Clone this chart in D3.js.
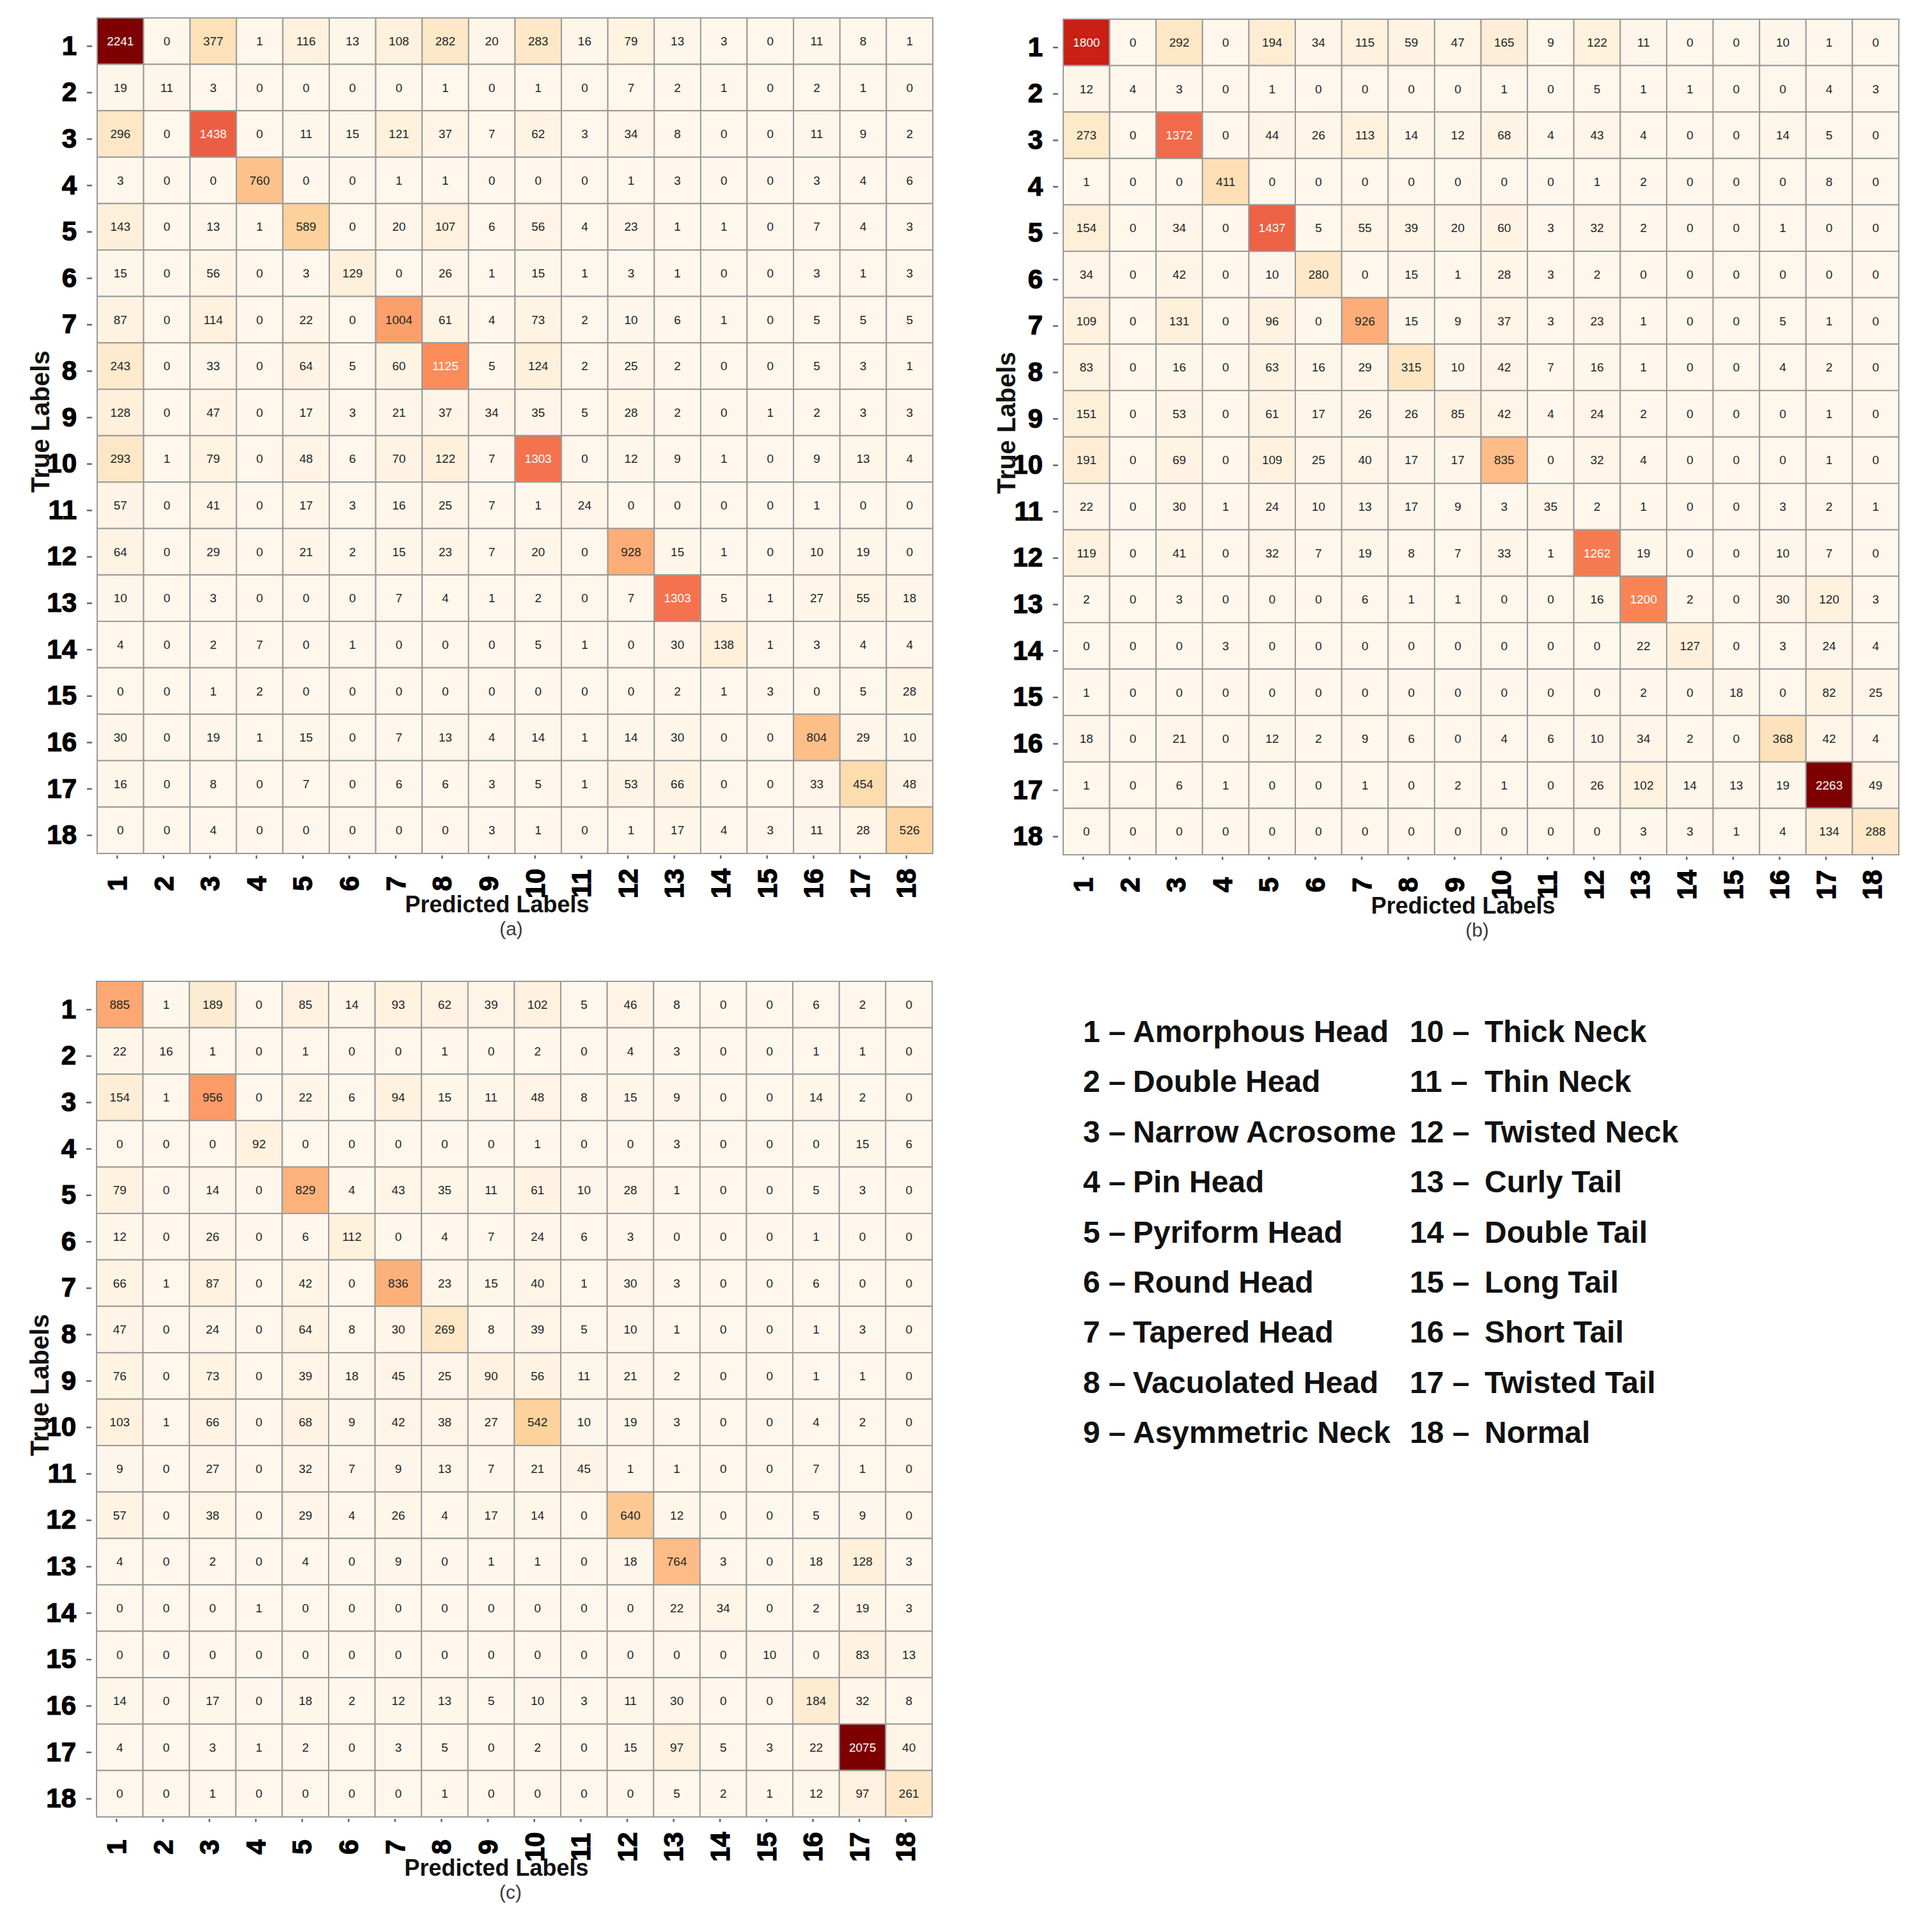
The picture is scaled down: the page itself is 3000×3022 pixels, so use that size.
<!DOCTYPE html>
<html>
<head>
<meta charset="utf-8">
<script src="https://cdn.jsdelivr.net/npm/d3@7"></script>
<style>
    body { margin: 0; background: #fff; }
    svg { display: block; }
</style>
</head>
<body>
<svg id="chart"></svg>
<script>
//Data
const labels = ['1','2','3','4','5','6','7','8','9','10','11','12','13','14','15','16','17','18'];

const classNumbers = ['1','2','3','4','5','6','7','8','9','10','11','12','13','14','15','16','17','18'];
const classNames = ['Amorphous Head','Double Head','Narrow Acrosome','Pin Head','Pyriform Head','Round Head',
    'Tapered Head','Vacuolated Head','Asymmetric Neck','Thick Neck','Thin Neck','Twisted Neck',
    'Curly Tail','Double Tail','Long Tail','Short Tail','Twisted Tail','Normal'];

const matrixA = [
    [2241,0,377,1,116,13,108,282,20,283,16,79,13,3,0,11,8,1],
    [19,11,3,0,0,0,0,1,0,1,0,7,2,1,0,2,1,0],
    [296,0,1438,0,11,15,121,37,7,62,3,34,8,0,0,11,9,2],
    [3,0,0,760,0,0,1,1,0,0,0,1,3,0,0,3,4,6],
    [143,0,13,1,589,0,20,107,6,56,4,23,1,1,0,7,4,3],
    [15,0,56,0,3,129,0,26,1,15,1,3,1,0,0,3,1,3],
    [87,0,114,0,22,0,1004,61,4,73,2,10,6,1,0,5,5,5],
    [243,0,33,0,64,5,60,1125,5,124,2,25,2,0,0,5,3,1],
    [128,0,47,0,17,3,21,37,34,35,5,28,2,0,1,2,3,3],
    [293,1,79,0,48,6,70,122,7,1303,0,12,9,1,0,9,13,4],
    [57,0,41,0,17,3,16,25,7,1,24,0,0,0,0,1,0,0],
    [64,0,29,0,21,2,15,23,7,20,0,928,15,1,0,10,19,0],
    [10,0,3,0,0,0,7,4,1,2,0,7,1303,5,1,27,55,18],
    [4,0,2,7,0,1,0,0,0,5,1,0,30,138,1,3,4,4],
    [0,0,1,2,0,0,0,0,0,0,0,0,2,1,3,0,5,28],
    [30,0,19,1,15,0,7,13,4,14,1,14,30,0,0,804,29,10],
    [16,0,8,0,7,0,6,6,3,5,1,53,66,0,0,33,454,48],
    [0,0,4,0,0,0,0,0,3,1,0,1,17,4,3,11,28,526]
];

const matrixB = [
    [1800,0,292,0,194,34,115,59,47,165,9,122,11,0,0,10,1,0],
    [12,4,3,0,1,0,0,0,0,1,0,5,1,1,0,0,4,3],
    [273,0,1372,0,44,26,113,14,12,68,4,43,4,0,0,14,5,0],
    [1,0,0,411,0,0,0,0,0,0,0,1,2,0,0,0,8,0],
    [154,0,34,0,1437,5,55,39,20,60,3,32,2,0,0,1,0,0],
    [34,0,42,0,10,280,0,15,1,28,3,2,0,0,0,0,0,0],
    [109,0,131,0,96,0,926,15,9,37,3,23,1,0,0,5,1,0],
    [83,0,16,0,63,16,29,315,10,42,7,16,1,0,0,4,2,0],
    [151,0,53,0,61,17,26,26,85,42,4,24,2,0,0,0,1,0],
    [191,0,69,0,109,25,40,17,17,835,0,32,4,0,0,0,1,0],
    [22,0,30,1,24,10,13,17,9,3,35,2,1,0,0,3,2,1],
    [119,0,41,0,32,7,19,8,7,33,1,1262,19,0,0,10,7,0],
    [2,0,3,0,0,0,6,1,1,0,0,16,1200,2,0,30,120,3],
    [0,0,0,3,0,0,0,0,0,0,0,0,22,127,0,3,24,4],
    [1,0,0,0,0,0,0,0,0,0,0,0,2,0,18,0,82,25],
    [18,0,21,0,12,2,9,6,0,4,6,10,34,2,0,368,42,4],
    [1,0,6,1,0,0,1,0,2,1,0,26,102,14,13,19,2263,49],
    [0,0,0,0,0,0,0,0,0,0,0,0,3,3,1,4,134,288]
];

const matrixC = [
    [885,1,189,0,85,14,93,62,39,102,5,46,8,0,0,6,2,0],
    [22,16,1,0,1,0,0,1,0,2,0,4,3,0,0,1,1,0],
    [154,1,956,0,22,6,94,15,11,48,8,15,9,0,0,14,2,0],
    [0,0,0,92,0,0,0,0,0,1,0,0,3,0,0,0,15,6],
    [79,0,14,0,829,4,43,35,11,61,10,28,1,0,0,5,3,0],
    [12,0,26,0,6,112,0,4,7,24,6,3,0,0,0,1,0,0],
    [66,1,87,0,42,0,836,23,15,40,1,30,3,0,0,6,0,0],
    [47,0,24,0,64,8,30,269,8,39,5,10,1,0,0,1,3,0],
    [76,0,73,0,39,18,45,25,90,56,11,21,2,0,0,1,1,0],
    [103,1,66,0,68,9,42,38,27,542,10,19,3,0,0,4,2,0],
    [9,0,27,0,32,7,9,13,7,21,45,1,1,0,0,7,1,0],
    [57,0,38,0,29,4,26,4,17,14,0,640,12,0,0,5,9,0],
    [4,0,2,0,4,0,9,0,1,1,0,18,764,3,0,18,128,3],
    [0,0,0,1,0,0,0,0,0,0,0,0,22,34,0,2,19,3],
    [0,0,0,0,0,0,0,0,0,0,0,0,0,0,10,0,83,13],
    [14,0,17,0,18,2,12,13,5,10,3,11,30,0,0,184,32,8],
    [4,0,3,1,2,0,3,5,0,2,0,15,97,5,3,22,2075,40],
    [0,0,1,0,0,0,0,1,0,0,0,0,5,2,1,12,97,261]
];

const captions = ['(a)', '(b)', '(c)'];

//Canvas
let width = 3000;
let height = 3022;
let size = 1307;
let panels = [
    {data: matrixA, caption: captions[0], x: 152, y: 28},
    {data: matrixB, caption: captions[1], x: 1663, y: 30},
    {data: matrixC, caption: captions[2], x: 151, y: 1535}
];

//matplotlib OrRd stops
const orRd = ['#fff7ec','#fee8c8','#fdd49e','#fdbb84','#fc8d59','#ef6548','#d7301f','#b30000','#7f0000'];

let svg = d3.select('#chart')
    .attr('width', width)
    .attr('height', height)
    .style('font-family', "'Liberation Sans', Arial, sans-serif");

svg.append('rect')
    .attr('width', width)
    .attr('height', height)
    .attr('fill', '#ffffff');

//seaborn style: light text on dark cells
const luminance = (color) => {
    let c = d3.rgb(color);
    let lin = [c.r, c.g, c.b].map(v => {
        v = v / 255;
        return v <= 0.03928 ? v / 12.92 : Math.pow((v + 0.055) / 1.055, 2.4);
    });
    return 0.2126 * lin[0] + 0.7152 * lin[1] + 0.0722 * lin[2];
}

let drawPanel = (panel) => {
    let values = panel.data;
    let maxVal = d3.max(values, row => d3.max(row));

    let xScale = d3.scaleBand().domain(labels).range([0, size]);
    let yScale = d3.scaleBand().domain(labels).range([0, size]);
    let colorScale = d3.scaleLinear()
        .domain(orRd.map((c, i) => i / (orRd.length - 1) * maxVal))
        .range(orRd);

    let g = svg.append('g')
        .attr('transform', 'translate(' + panel.x + ',' + panel.y + ')');

    let cells = [];
    values.forEach((row, i) => {
        row.forEach((v, j) => {
            cells.push({row: labels[i], col: labels[j], value: v});
        });
    });

    g.selectAll('rect.cell')
        .data(cells)
        .enter()
        .append('rect')
        .attr('class', 'cell')
        .attr('x', d => xScale(d.col))
        .attr('y', d => yScale(d.row))
        .attr('width', xScale.bandwidth())
        .attr('height', yScale.bandwidth())
        .attr('fill', d => colorScale(d.value))
        .attr('stroke', '#9a9a9a')
        .attr('stroke-width', 2);

    g.selectAll('text.val')
        .data(cells)
        .enter()
        .append('text')
        .attr('class', 'val')
        .attr('x', d => xScale(d.col) + xScale.bandwidth() / 2)
        .attr('y', d => yScale(d.row) + yScale.bandwidth() / 2)
        .attr('dy', '0.35em')
        .attr('text-anchor', 'middle')
        .style('font-size', '19px')
        .attr('fill', d => luminance(colorScale(d.value)) > 0.408 ? '#262626' : '#ffffff')
        .text(d => d.value);

    //axes (the tick rows sit a little off the cells in the original)
    let yAxis = g.append('g')
        .attr('transform', 'translate(-2,8)')
        .call(d3.axisLeft(yScale).tickSize(14).tickPadding(16));
    yAxis.select('.domain').remove();
    yAxis.selectAll('line')
        .attr('x1', -6)
        .attr('stroke', '#666')
        .attr('stroke-width', 2.5);
    yAxis.selectAll('text')
        .style('font-size', '42px')
        .style('font-weight', 'bold')
        .attr('fill', '#000')
        .attr('stroke', '#000')
        .attr('stroke-width', 1.2);

    let xAxis = g.append('g')
        .attr('transform', 'translate(-5,' + size + ')')
        .call(d3.axisBottom(xScale).tickSize(8));
    xAxis.select('.domain').remove();
    xAxis.selectAll('line')
        .attr('y1', 3)
        .attr('stroke', '#666')
        .attr('stroke-width', 2.5);
    xAxis.selectAll('text')
        .attr('x', 0)
        .attr('y', 0)
        .attr('dy', '0.35em')
        .attr('transform', 'translate(0,47) rotate(-90)')
        .style('text-anchor', 'middle')
        .style('font-size', '42px')
        .style('font-weight', 'bold')
        .attr('fill', '#000')
        .attr('stroke', '#000')
        .attr('stroke-width', 1.2);

    g.append('text')
        .attr('transform', 'translate(-75,' + (size / 2 - 22) + ') rotate(-90)')
        .attr('text-anchor', 'middle')
        .style('font-size', '40px')
        .style('font-weight', 'bold')
        .attr('fill', '#111')
        .text('True Labels');

    g.append('text')
        .attr('x', size / 2 - 28)
        .attr('y', size + 92)
        .attr('text-anchor', 'middle')
        .style('font-size', '36px')
        .style('font-weight', 'bold')
        .attr('fill', '#111')
        .text('Predicted Labels');

    g.append('text')
        .attr('x', size / 2 - 6)
        .attr('y', size + 128)
        .attr('text-anchor', 'middle')
        .style('font-size', '30px')
        .attr('fill', '#3a3a3a')
        .text(panel.caption);
}

panels.forEach(drawPanel);

//legend of the 18 classes
let drawLegend = () => {
    let legend = svg.append('g');
    let rowY = d3.scaleLinear().domain([0, 8]).range([1630, 2257]);

    let items = classNames.map((name, i) => ({
        num: classNumbers[i],
        name: name,
        col: i < 9 ? 0 : 1,
        row: i % 9
    }));

    let numX = [1694, 2205];
    let nameX = [1772, 2322];

    legend.selectAll('text.num')
        .data(items)
        .enter()
        .append('text')
        .attr('class', 'num')
        .attr('x', d => numX[d.col])
        .attr('y', d => rowY(d.row))
        .style('font-size', '48px')
        .style('font-weight', 'bold')
        .attr('fill', '#111')
        .text(d => d.num + ' \u2013');

    legend.selectAll('text.name')
        .data(items)
        .enter()
        .append('text')
        .attr('class', 'name')
        .attr('x', d => nameX[d.col])
        .attr('y', d => rowY(d.row))
        .style('font-size', '48px')
        .style('font-weight', 'bold')
        .attr('fill', '#111')
        .text(d => d.name);
}

drawLegend();
</script>
</body>
</html>
